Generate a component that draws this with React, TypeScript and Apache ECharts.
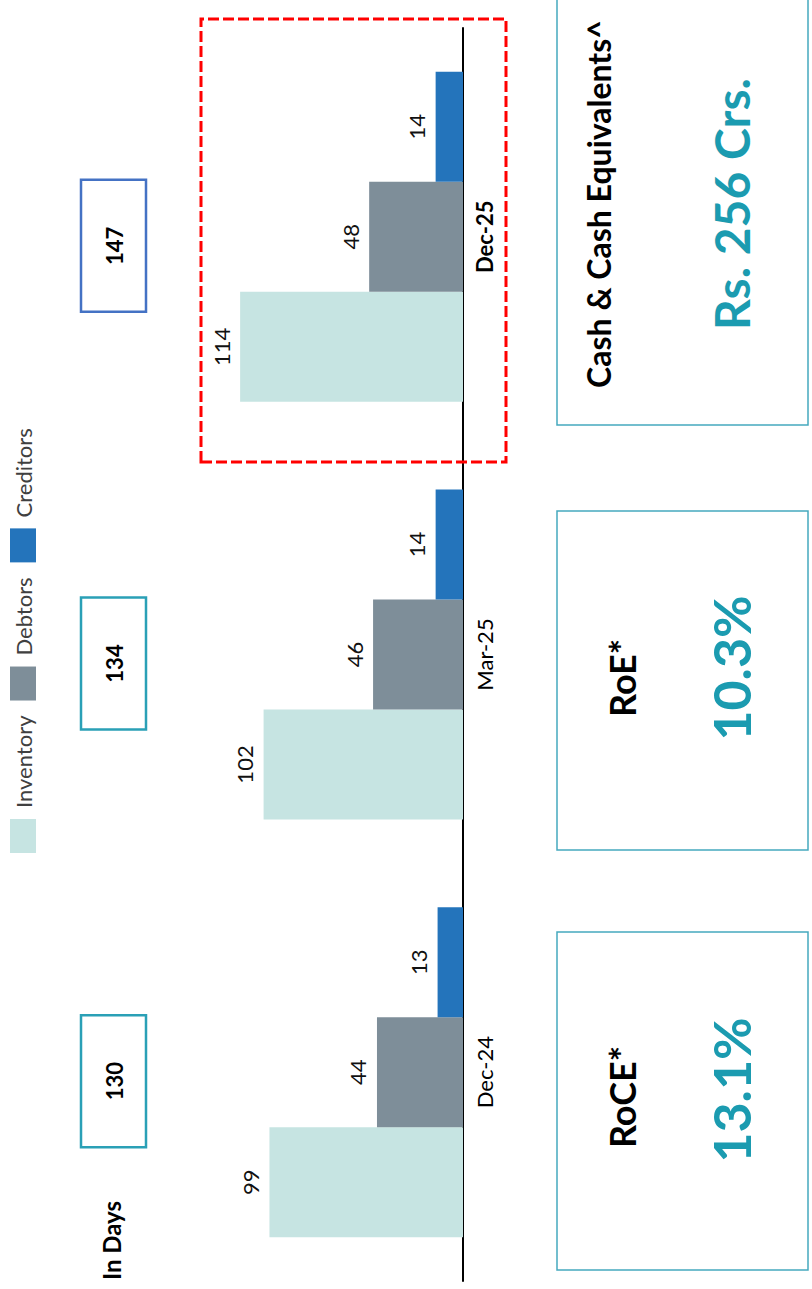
import React, { useEffect, useRef } from "react";
import * as echarts from "echarts";

// Working-capital days per period
const categories = ["Dec-24", "Mar-25", "Dec-25"];
const inventoryDays = [99, 102, 114];
const debtorDays = [44, 46, 48];
const creditorDays = [13, 14, 14];
const cycleDays = [130, 134, 147];
const seriesNames = ["Inventory", "Debtors", "Creditors"];

// Return ratios and liquidity
const kpiTitles = ["RoCE*", "RoE*", "Cash & Cash Equivalents^"];
const kpiValues = ["13.1%", "10.3%", "Rs. 256 Crs."];

const FONT = "Lato, 'Open Sans', sans-serif";
const TEAL = "#1B9BB0";
const highlightIndex = 2;

// Chart is laid out landscape (W x H) and turned a quarter turn on the page
const W = 1289;
const H = 812;

// KPI panel layout (landscape coordinates)
const kpiBoxes = [
  { x: 19, w: 338, titleX: 192, valueX: 199, titleY: 622 },
  { x: 439, w: 339, titleX: 611, valueX: 621, titleY: 622 },
  { x: 864, w: 440, titleX: 1085, valueX: 1085, titleY: 598 },
];

export default function App() {
  const ref = useRef<HTMLDivElement>(null);

  useEffect(() => {
    if (!ref.current) return;
    const chart = echarts.init(ref.current, undefined, {
      renderer: "svg",
      width: W,
      height: H,
    });

    const barLabel = {
      show: true,
      position: "top",
      distance: 8,
      fontSize: 22,
      color: "#111",
      fontFamily: FONT,
    };

    const graphics: any[] = [
      {
        type: "text",
        x: 9,
        y: 111,
        style: {
          text: "In Days",
          fontSize: 24,
          fontWeight: "bold",
          fill: "#000",
          fontFamily: FONT,
          align: "left",
          verticalAlign: "middle",
        },
      },
      {
        type: "rect",
        shape: { x: 827, y: 201, width: 443, height: 305 },
        style: {
          fill: "none",
          stroke: "#FF0000",
          lineWidth: 3,
          lineDash: [11, 4],
        },
        z: 20,
      },
    ];

    kpiBoxes.forEach((b, i) => {
      graphics.push(
        {
          type: "rect",
          shape: { x: b.x, y: 557, width: b.w, height: 251 },
          style: { fill: "#fff", stroke: "#45A9BE", lineWidth: 1.5 },
        },
        {
          type: "text",
          x: b.titleX,
          y: b.titleY,
          style: {
            text: kpiTitles[i],
            fontSize: i === 2 ? 32 : 36,
            fontWeight: "bold",
            fill: "#000",
            fontFamily: FONT,
            align: "center",
            verticalAlign: "middle",
          },
        },
        {
          type: "text",
          x: b.valueX,
          y: 731,
          style: {
            text: kpiValues[i],
            fontSize: i === 2 ? 48 : 52,
            fontWeight: "bold",
            fill: TEAL,
            fontFamily: FONT,
            align: "center",
            verticalAlign: "middle",
          },
        }
      );
    });

    chart.setOption({
      animation: false,
      backgroundColor: "#fff",
      textStyle: { fontFamily: FONT },
      legend: {
        data: seriesNames,
        left: 431,
        top: 5,
        icon: "rect",
        itemWidth: 34,
        itemHeight: 26,
        itemGap: 15,
        textStyle: {
          fontSize: 22,
          color: "#404040",
          fontFamily: FONT,
          padding: [0, 0, 0, 6],
        },
        selectedMode: false,
      },
      grid: {
        left: 8,
        right: 28,
        top: 72,
        bottom: 349,
        containLabel: false,
        outerBoundsMode: "none",
      },
      xAxis: {
        type: "category",
        data: categories.map((c, i) =>
          i === highlightIndex
            ? { value: c, textStyle: { fontWeight: "bold" } }
            : c
        ),
        axisLine: { lineStyle: { color: "#000", width: 2 } },
        axisTick: { show: false },
        axisLabel: {
          fontSize: 22,
          color: "#000",
          margin: 10,
          fontFamily: FONT,
          interval: 0,
        },
        splitLine: { show: false },
      },
      yAxis: {
        type: "value",
        min: 0,
        max: 200,
        show: false,
        splitLine: { show: false },
      },
      series: [
        {
          name: "Inventory",
          type: "bar",
          data: inventoryDays,
          barGap: "0%",
          barCategoryGap: "21%",
          itemStyle: { color: "#C6E4E2" },
          label: barLabel,
        },
        {
          name: "Debtors",
          type: "bar",
          data: debtorDays,
          barGap: "0%",
          barCategoryGap: "21%",
          itemStyle: { color: "#7E8E99" },
          label: barLabel,
        },
        {
          name: "Creditors",
          type: "bar",
          data: creditorDays,
          barGap: "0%",
          barCategoryGap: "21%",
          itemStyle: { color: "#2474BB" },
          label: barLabel,
        },
        {
          // cycle-day total boxes above each period
          name: "Cycle",
          type: "custom",
          coordinateSystem: "cartesian2d",
          data: cycleDays.map((v, i) => [i, v]),
          encode: { x: 0, y: 1 },
          clip: false,
          silent: true,
          z: 10,
          renderItem: (params: any, api: any) => {
            const cx = api.coord([api.value(0), 0])[0] - 9;
            const highlight = params.dataIndex === highlightIndex;
            return {
              type: "group",
              children: [
                {
                  type: "rect",
                  shape: { x: cx - 66, y: 81, width: 132, height: 65 },
                  style: {
                    fill: "#fff",
                    stroke: highlight ? "#4472C4" : "#2AA0B6",
                    lineWidth: 2.5,
                  },
                },
                {
                  type: "text",
                  x: cx,
                  y: 114,
                  style: {
                    text: String(api.value(1)),
                    fontSize: 22,
                    fontWeight: "bold",
                    fill: "#000",
                    fontFamily: FONT,
                    align: "center",
                    verticalAlign: "middle",
                  },
                },
              ],
            };
          },
        },
      ],
      graphic: graphics,
    });

    return () => chart.dispose();
  }, []);

  return (
    <div
      style={{
        position: "absolute",
        left: 0,
        top: 0,
        width: H,
        height: W,
        overflow: "hidden",
        background: "#fff",
      }}
    >
      <div
        ref={ref}
        style={{
          position: "absolute",
          left: 0,
          top: 0,
          width: W,
          height: H,
          transformOrigin: "0 0",
          transform: `translate(0px, ${W}px) rotate(-90deg)`,
        }}
      />
    </div>
  );
}
